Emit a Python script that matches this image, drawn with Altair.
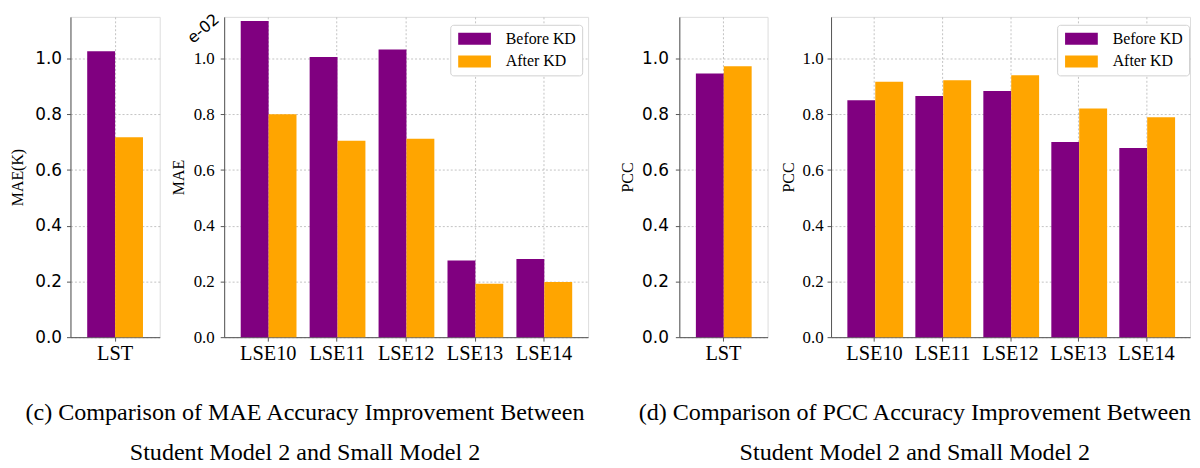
import altair as alt
import pandas as pd

# ---- data ----
series = ["Before KD", "After KD"]
lst_cats = ["LST"]
lse_cats = ["LSE10", "LSE11", "LSE12", "LSE13", "LSE14"]

mae_lst_before = [1.027]
mae_lst_after = [0.718]
mae_lse_before = [1.135, 1.006, 1.033, 0.275, 0.281]
mae_lse_after = [0.800, 0.705, 0.712, 0.192, 0.198]

pcc_lst_before = [0.947]
pcc_lst_after = [0.973]
pcc_lse_before = [0.851, 0.866, 0.884, 0.701, 0.679]
pcc_lse_after = [0.917, 0.922, 0.940, 0.821, 0.790]

y_ticks = [0.0, 0.2, 0.4, 0.6, 0.8, 1.0]

caption_c = ["(c) Comparison of MAE Accuracy Improvement Between",
             "Student Model 2 and Small Model 2"]
caption_d = ["(d) Comparison of PCC Accuracy Improvement Between",
             "Student Model 2 and Small Model 2"]

PURPLE = "#800080"
ORANGE = "#FFA500"
SERIF = "Liberation Serif"
SANS = "DejaVu Sans"
FRAME = "#555555"
GRID = "#b5b5b5"
H = 323
# wide legend swatch (33 x 12 px at symbolSize 144)
RECT = "M-1,-1L4.5,-1L4.5,1L-1,1Z"


def make_df(cats, before, after):
    rows = []
    for c, b, a in zip(cats, before, after):
        rows.append({"cat": c, "series": series[0], "value": b})
        rows.append({"cat": c, "series": series[1], "value": a})
    return pd.DataFrame(rows)


def panel(df, cats, width, ytitle, sans_labels, extent, label_pad, title_pad,
          legend_x=None, exp_text=False):
    if legend_x is None:
        legend = None
    else:
        legend = alt.Legend(title=None, orient="none", legendX=legend_x, legendY=8,
                            symbolType=RECT, symbolSize=144, symbolStrokeWidth=0,
                            labelFont=SERIF, labelFontSize=16, labelColor="black",
                            labelOffset=34, padding=6, rowPadding=7,
                            fillColor="white", strokeColor="#d0d0d0",
                            cornerRadius=3)
    bars = alt.Chart(df).mark_bar().encode(
        x=alt.X("cat:N", sort=cats, title=None,
                scale=alt.Scale(paddingInner=0.2, paddingOuter=0.24),
                axis=alt.Axis(labelAngle=0, labelFont=SERIF, labelFontSize=20.5,
                              labelColor="black", tickSize=4, tickColor=FRAME,
                              labelPadding=3, domainColor=FRAME,
                              grid=True, gridColor=GRID, gridDash=[2, 2],
                              gridWidth=0.8, bandPosition=0.5)),
        xOffset=alt.XOffset("series:N", sort=series,
                            scale=alt.Scale(paddingInner=0, paddingOuter=0)),
        y=alt.Y("value:Q", title=ytitle,
                scale=alt.Scale(domain=[0, 1.15], nice=False, zero=True),
                axis=alt.Axis(values=y_ticks, format=".1f",
                              labelFont=SANS if sans_labels else SERIF,
                              labelFontSize=17, labelColor="black",
                              tickSize=4, tickColor=FRAME, labelPadding=label_pad,
                              domainColor=FRAME, minExtent=extent, maxExtent=extent,
                              titleFont=SERIF, titleFontSize=16,
                              titleFontWeight="normal", titleColor="black",
                              titlePadding=title_pad,
                              grid=True, gridColor=GRID, gridDash=[2, 2],
                              gridWidth=0.8)),
        color=alt.Color("series:N", sort=series,
                        scale=alt.Scale(domain=series, range=[PURPLE, ORANGE]),
                        legend=legend),
    )
    layers = [bars]
    if exp_text:
        txt = alt.Chart(pd.DataFrame({"t": ["e-02"]})).mark_text(
            font=SANS, fontSize=16, angle=320, align="center", baseline="middle",
            color="black"
        ).encode(text="t:N", x=alt.value(-21), y=alt.value(12))
        layers.append(txt)
    return alt.layer(*layers).properties(width=width, height=H)


df_mae_lst = make_df(lst_cats, mae_lst_before, mae_lst_after)
df_mae_lse = make_df(lse_cats, mae_lse_before, mae_lse_after)
df_pcc_lst = make_df(lst_cats, pcc_lst_before, pcc_lst_after)
df_pcc_lse = make_df(lse_cats, pcc_lse_before, pcc_lse_after)

p1 = panel(df_mae_lst, lst_cats, 90, "MAE(K)", True, 36, 5, 9)
p2 = panel(df_mae_lse, lse_cats, 367, "MAE", False, 31, 6, 7, legend_x=228, exp_text=True)
p3 = panel(df_pcc_lst, lst_cats, 89, "PCC", True, 38, 7, 6)
p4 = panel(df_pcc_lse, lse_cats, 362, "PCC", False, 29, 4, 6, legend_x=228)

cap_style = dict(orient="bottom", anchor="middle", font=SERIF, fontSize=24.3,
                 fontWeight="normal", color="black", lineHeight=40, offset=56,
                 baseline="alphabetic")

gc = alt.hconcat(p1, p2, spacing=9).properties(
    title=alt.TitleParams(text=caption_c, dx=6, **cap_style)
).resolve_scale(color="independent").resolve_legend(color="independent")
gd = alt.hconcat(p3, p4, spacing=11).properties(
    title=alt.TitleParams(text=caption_d, dx=10, **cap_style)
).resolve_scale(color="independent").resolve_legend(color="independent")

chart = alt.hconcat(gc, gd, spacing=30).resolve_scale(
    color="independent").resolve_legend(color="independent").properties(
    padding={"left": 1, "top": 0, "right": 0, "bottom": 0}
).configure_view(stroke=FRAME, strokeWidth=1.2).configure(background="white")

chart.save("out.html", embed_options={"renderer": "svg", "actions": False})
